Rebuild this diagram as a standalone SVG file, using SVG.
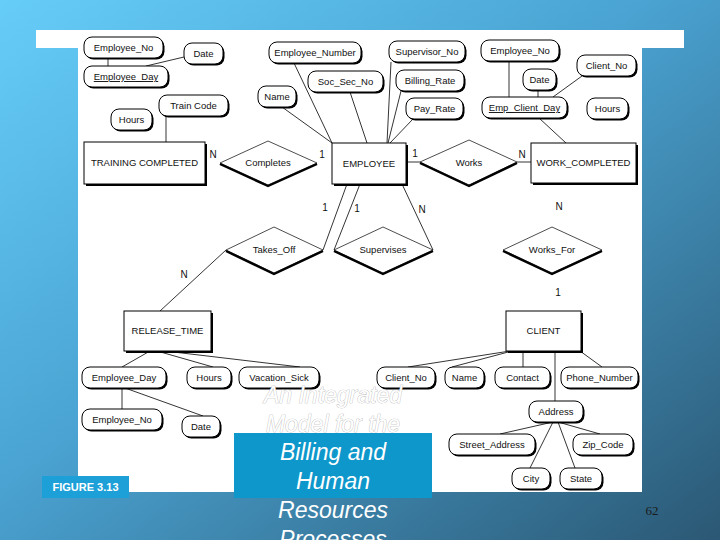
<svg xmlns="http://www.w3.org/2000/svg" width="720" height="540" viewBox="0 0 720 540">
<defs>
<linearGradient id="bg" x1="0" y1="0" x2="1" y2="1">
<stop offset="0" stop-color="#66cdf8"/>
<stop offset="0.45" stop-color="#4aa3d2"/>
<stop offset="1" stop-color="#2b5874"/>
</linearGradient>
<style>
.t{font-family:"Liberation Sans",Arial,sans-serif;font-size:9.5px;fill:#111;text-anchor:middle}
.lb{font-family:"Liberation Sans",Arial,sans-serif;font-size:10px;fill:#111;text-anchor:middle}
.sh{fill:#000}
.ab{fill:#fff;stroke:#000;stroke-width:1}
.en{fill:#fff;stroke:#000;stroke-width:1}
.dm{fill:#fff;stroke:#000;stroke-width:0.7}
.dk{fill:none;stroke:#000;stroke-width:2.4;stroke-linejoin:round}
.c line{stroke:#000;stroke-width:0.8}
.u{text-decoration:underline}
.title{font-family:"Liberation Sans",Arial,sans-serif;font-size:23px;font-style:italic;fill:#fff;text-anchor:middle}
</style>
</defs>
<rect x="0" y="0" width="720" height="540" fill="url(#bg)"/>
<rect x="36" y="30" width="648" height="18" fill="#fff"/>
<rect x="78" y="30" width="564" height="462" fill="#fff"/>

<g id="connectors" class="c">
<line x1="108" y1="58" x2="108" y2="66"/>
<line x1="184" y1="57" x2="146" y2="66"/>
<line x1="166" y1="116" x2="166" y2="142"/>
<line x1="282" y1="107" x2="332" y2="143"/>
<line x1="294" y1="63" x2="332" y2="143"/>
<line x1="350" y1="92" x2="367" y2="143"/>
<line x1="391" y1="62" x2="387" y2="143"/>
<line x1="401" y1="91" x2="388" y2="143"/>
<line x1="413" y1="119" x2="390" y2="143"/>
<line x1="406" y1="162" x2="420" y2="162"/>
<line x1="517" y1="162" x2="531" y2="162"/>
<line x1="509" y1="61" x2="509" y2="97"/>
<line x1="538" y1="90" x2="538" y2="97"/>
<line x1="582" y1="76" x2="553" y2="97"/>
<line x1="539" y1="118" x2="566" y2="143"/>
<line x1="347" y1="184" x2="323" y2="250"/>
<line x1="360" y1="184" x2="334" y2="250"/>
<line x1="402" y1="184" x2="433" y2="250"/>
<line x1="226" y1="250" x2="160" y2="311"/>
<line x1="150" y1="351" x2="122" y2="367"/>
<line x1="157" y1="351" x2="213" y2="367"/>
<line x1="165" y1="351" x2="300" y2="367"/>
<line x1="122" y1="388" x2="122" y2="409"/>
<line x1="125" y1="388" x2="203" y2="416"/>
<line x1="510" y1="351" x2="408" y2="367"/>
<line x1="512" y1="351" x2="452" y2="367"/>
<line x1="523" y1="351" x2="523" y2="367"/>
<line x1="555" y1="351" x2="555" y2="401"/>
<line x1="580" y1="351" x2="602" y2="367"/>
<line x1="553" y1="422" x2="500" y2="434"/>
<line x1="558" y1="422" x2="600" y2="434"/>
<line x1="553" y1="422" x2="530" y2="468"/>
<line x1="558" y1="422" x2="575" y2="468"/>
</g>

<!-- Entities -->
<g id="training_completed"><rect class="sh" x="86" y="144" width="121" height="42"/><rect class="en" x="84" y="142" width="121" height="42"/><text class="t" x="144.5" y="166">TRAINING COMPLETED</text></g>
<g id="employee"><rect class="sh" x="334" y="145" width="74" height="41"/><rect class="en" x="332" y="143" width="74" height="41"/><text class="t" x="369" y="167">EMPLOYEE</text></g>
<g id="work_completed"><rect class="sh" x="533" y="145" width="105" height="40"/><rect class="en" x="531" y="143" width="105" height="40"/><text class="t" x="583.5" y="166">WORK_COMPLETED</text></g>
<g id="release_time"><rect class="sh" x="126" y="313" width="87" height="40"/><rect class="en" x="124" y="311" width="87" height="40"/><text class="t" x="167.5" y="334">RELEASE_TIME</text></g>
<g id="client"><rect class="sh" x="508" y="313" width="75" height="40"/><rect class="en" x="506" y="311" width="75" height="40"/><text class="t" x="543.5" y="334">CLIENT</text></g>

<!-- Relationships -->
<g id="completes"><polygon class="dm" points="220,163 268,141 317,163 268,185"/><polyline class="dk" points="220,164 268,186 317,164"/><text class="t" x="268" y="166">Completes</text></g>
<g id="works"><polygon class="dm" points="420,162 469,140 517,162 469,185"/><polyline class="dk" points="420,163 469,186 517,163"/><text class="t" x="469" y="166">Works</text></g>
<g id="takes_off"><polygon class="dm" points="226,250 274,227 323,250 274,273"/><polyline class="dk" points="226,251 274,274 323,251"/><text class="t" x="274" y="253">Takes_Off</text></g>
<g id="supervises"><polygon class="dm" points="334,250 383,227 433,250 383,273"/><polyline class="dk" points="334,251 383,274 433,251"/><text class="t" x="383" y="253">Supervises</text></g>
<g id="works_for"><polygon class="dm" points="503,250 552,227 602,250 552,273"/><polyline class="dk" points="503,251 552,274 602,251"/><text class="t" x="552" y="253">Works_For</text></g>

<!-- Attributes -->
<g id="employee_no_1"><rect class="sh" x="85.5" y="38.5" width="79" height="21" rx="8"/><rect class="ab" x="84" y="37" width="79" height="21" rx="8"/><text class="t" x="123.5" y="51">Employee_No</text></g>
<g id="date_1"><rect class="sh" x="185.5" y="44.5" width="39" height="21" rx="8"/><rect class="ab" x="184" y="43" width="39" height="21" rx="8"/><text class="t" x="203.5" y="57">Date</text></g>
<g id="employee_day_1"><rect class="sh" x="85.5" y="67.5" width="84" height="21" rx="8"/><rect class="ab" x="84" y="66" width="84" height="21" rx="8"/><text class="t u" x="126" y="80">Employee_Day</text></g>
<g id="train_code"><rect class="sh" x="160.5" y="96.5" width="69" height="21" rx="8"/><rect class="ab" x="159" y="95" width="69" height="21" rx="8"/><text class="t" x="193.5" y="109">Train Code</text></g>
<g id="hours_1"><rect class="sh" x="112.5" y="110.5" width="41" height="21" rx="8"/><rect class="ab" x="111" y="109" width="41" height="21" rx="8"/><text class="t" x="131.5" y="123">Hours</text></g>

<g id="employee_number"><rect class="sh" x="270.5" y="43.5" width="92" height="21" rx="8"/><rect class="ab" x="269" y="42" width="92" height="21" rx="8"/><text class="t" x="315" y="56">Employee_Number</text></g>
<g id="soc_sec_no"><rect class="sh" x="309.5" y="72.5" width="75" height="21" rx="8"/><rect class="ab" x="308" y="71" width="75" height="21" rx="8"/><text class="t" x="345.5" y="85">Soc_Sec_No</text></g>
<g id="name_1"><rect class="sh" x="259.5" y="87.5" width="38" height="21" rx="8"/><rect class="ab" x="258" y="86" width="38" height="21" rx="8"/><text class="t" x="277" y="100">Name</text></g>
<g id="supervisor_no"><rect class="sh" x="390.5" y="42.5" width="76" height="21" rx="8"/><rect class="ab" x="389" y="41" width="76" height="21" rx="8"/><text class="t" x="427" y="55">Supervisor_No</text></g>
<g id="billing_rate"><rect class="sh" x="397.5" y="71.5" width="68" height="21" rx="8"/><rect class="ab" x="396" y="70" width="68" height="21" rx="8"/><text class="t" x="430" y="84">Billing_Rate</text></g>
<g id="pay_rate"><rect class="sh" x="407.5" y="99.5" width="57" height="21" rx="8"/><rect class="ab" x="406" y="98" width="57" height="21" rx="8"/><text class="t" x="434.5" y="112">Pay_Rate</text></g>

<g id="employee_no_2"><rect class="sh" x="482.5" y="41.5" width="78" height="21" rx="8"/><rect class="ab" x="481" y="40" width="78" height="21" rx="8"/><text class="t" x="520" y="54">Employee_No</text></g>
<g id="client_no_1"><rect class="sh" x="578.5" y="56.5" width="59" height="21" rx="8"/><rect class="ab" x="577" y="55" width="59" height="21" rx="8"/><text class="t" x="606.5" y="69">Client_No</text></g>
<g id="date_2"><rect class="sh" x="524.5" y="70.5" width="33" height="21" rx="8"/><rect class="ab" x="523" y="69" width="33" height="21" rx="8"/><text class="t" x="539.5" y="83">Date</text></g>
<g id="emp_client_day"><rect class="sh" x="483.5" y="98.5" width="85" height="21" rx="8"/><rect class="ab" x="482" y="97" width="85" height="21" rx="8"/><text class="t u" x="524.5" y="111">Emp_Client_Day</text></g>
<g id="hours_2"><rect class="sh" x="588.5" y="99.5" width="41" height="21" rx="8"/><rect class="ab" x="587" y="98" width="41" height="21" rx="8"/><text class="t" x="607.5" y="112">Hours</text></g>

<g id="employee_day_2"><rect class="sh" x="83.5" y="368.5" width="84" height="21" rx="8"/><rect class="ab" x="82" y="367" width="84" height="21" rx="8"/><text class="t" x="124" y="381">Employee_Day</text></g>
<g id="hours_3"><rect class="sh" x="188.5" y="368.5" width="44" height="21" rx="8"/><rect class="ab" x="187" y="367" width="44" height="21" rx="8"/><text class="t" x="209" y="381">Hours</text></g>
<g id="vacation_sick"><rect class="sh" x="240.5" y="368.5" width="80" height="21" rx="8"/><rect class="ab" x="239" y="367" width="80" height="21" rx="8"/><text class="t" x="279" y="381">Vacation_Sick</text></g>
<g id="employee_no_3"><rect class="sh" x="83.5" y="410.5" width="80" height="21" rx="8"/><rect class="ab" x="82" y="409" width="80" height="21" rx="8"/><text class="t" x="122" y="423">Employee_No</text></g>
<g id="date_3"><rect class="sh" x="183.5" y="417.5" width="38" height="21" rx="8"/><rect class="ab" x="182" y="416" width="38" height="21" rx="8"/><text class="t" x="201" y="430">Date</text></g>

<g id="client_no_2"><rect class="sh" x="378.5" y="368.5" width="58" height="21" rx="8"/><rect class="ab" x="377" y="367" width="58" height="21" rx="8"/><text class="t" x="406" y="381">Client_No</text></g>
<g id="name_2"><rect class="sh" x="446.5" y="368.5" width="39" height="21" rx="8"/><rect class="ab" x="445" y="367" width="39" height="21" rx="8"/><text class="t" x="464.5" y="381">Name</text></g>
<g id="contact"><rect class="sh" x="496.5" y="368.5" width="55" height="21" rx="8"/><rect class="ab" x="495" y="367" width="55" height="21" rx="8"/><text class="t" x="522.5" y="381">Contact</text></g>
<g id="phone_number"><rect class="sh" x="562.5" y="368.5" width="77" height="21" rx="8"/><rect class="ab" x="561" y="367" width="77" height="21" rx="8"/><text class="t" x="599.5" y="381">Phone_Number</text></g>
<g id="address"><rect class="sh" x="530.5" y="402.5" width="54" height="21" rx="8"/><rect class="ab" x="529" y="401" width="54" height="21" rx="8"/><text class="t" x="556" y="415">Address</text></g>
<g id="street_address"><rect class="sh" x="450.5" y="435.5" width="86" height="21" rx="8"/><rect class="ab" x="449" y="434" width="86" height="21" rx="8"/><text class="t" x="492" y="448">Street_Address</text></g>
<g id="zip_code"><rect class="sh" x="574.5" y="435.5" width="60" height="21" rx="8"/><rect class="ab" x="573" y="434" width="60" height="21" rx="8"/><text class="t" x="603" y="448">Zip_Code</text></g>
<g id="city"><rect class="sh" x="513.5" y="469.5" width="38" height="21" rx="8"/><rect class="ab" x="512" y="468" width="38" height="21" rx="8"/><text class="t" x="531" y="482">City</text></g>
<g id="state"><rect class="sh" x="561.5" y="469.5" width="42" height="21" rx="8"/><rect class="ab" x="560" y="468" width="42" height="21" rx="8"/><text class="t" x="581" y="482">State</text></g>

<g id="cardinalities">
<text class="lb" x="213" y="158">N</text>
<text class="lb" x="322" y="158">1</text>
<text class="lb" x="415" y="157">1</text>
<text class="lb" x="522" y="158">N</text>
<text class="lb" x="325" y="211">1</text>
<text class="lb" x="357" y="212">1</text>
<text class="lb" x="422" y="213">N</text>
<text class="lb" x="559" y="210">N</text>
<text class="lb" x="558" y="296">1</text>
<text class="lb" x="184" y="278">N</text>
</g>

<g id="figure_label">
<rect x="42" y="476" width="87" height="22" fill="#1d9fd8"/>
<text x="85.5" y="491" font-family="'Liberation Sans',Arial,sans-serif" font-size="11" font-weight="bold" fill="#fff" text-anchor="middle">FIGURE 3.13</text>
</g>

<g id="title">
<rect x="234" y="433" width="198" height="65" fill="#0e97cb"/>
<text class="title" x="333" y="403" stroke="#b0b0b0" stroke-width="0.7" paint-order="stroke">An Integrated</text>
<text class="title" x="333" y="432" stroke="#b0b0b0" stroke-width="0.7" paint-order="stroke">Model for the</text>
<text class="title" x="333" y="460">Billing and</text>
<text class="title" x="333" y="489">Human</text>
<text class="title" x="333" y="518">Resources</text>
<text class="title" x="333" y="547">Processes</text>
</g>

<text x="652" y="515" font-family="'Liberation Serif','Times New Roman',serif" font-size="13" fill="#1a1a1a" text-anchor="middle">62</text>
</svg>
